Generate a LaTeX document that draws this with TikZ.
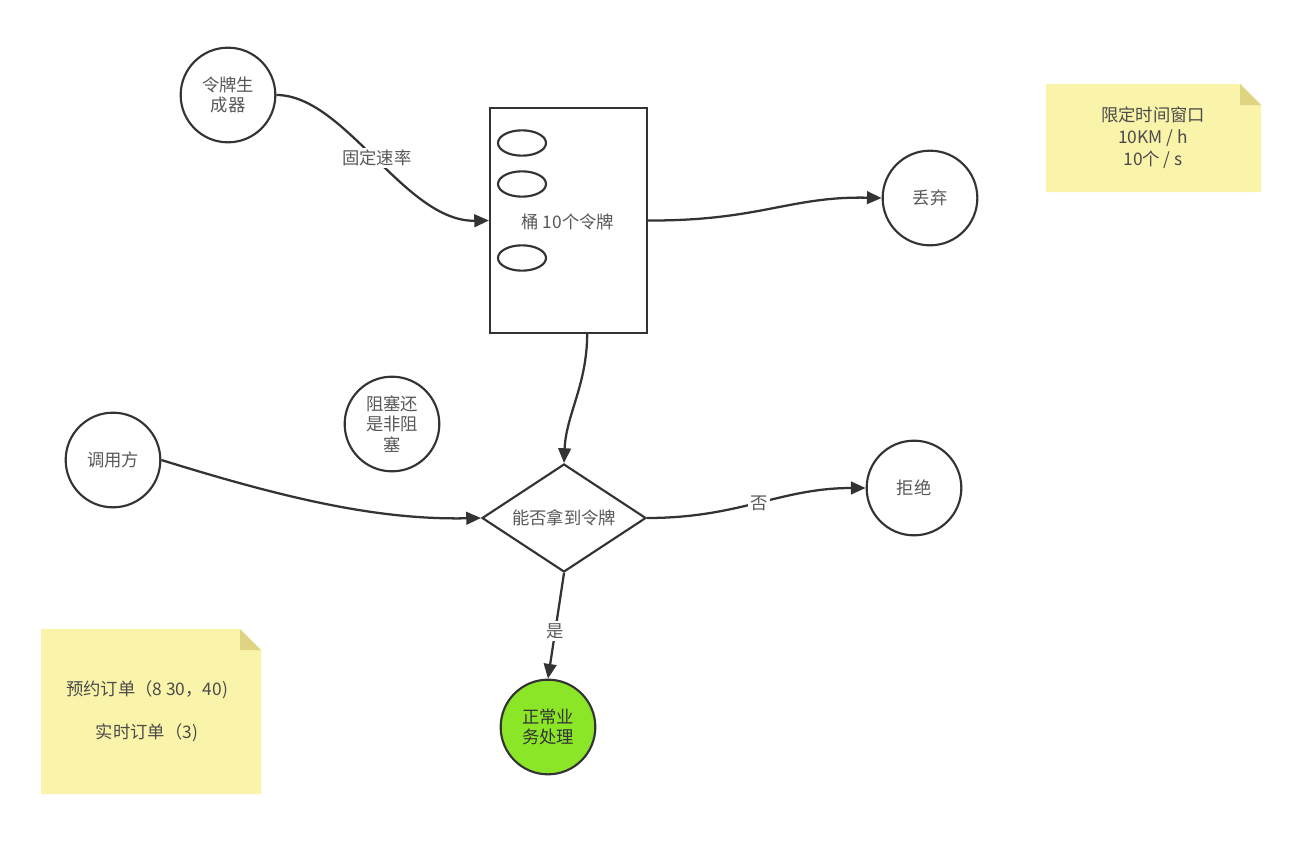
\documentclass[tikz,border=0pt]{standalone}
\usepackage{fontspec}
\setmainfont{Noto Sans CJK SC}
\usetikzlibrary{arrows.meta,shapes.geometric}
\definecolor{ln}{HTML}{333333}
\definecolor{tx}{HTML}{585858}
\definecolor{notey}{RGB}{250,244,170}
\definecolor{foldy}{RGB}{222,212,130}
\definecolor{okgreen}{HTML}{8CE628}
\tikzset{
  circ/.style={circle,draw=ln,line width=1.6pt,minimum size=71pt,inner sep=0pt,
    text=tx,align=center,font=\fontsize{13pt}{15.5pt}\selectfont},
  conn/.style={draw=ln,line width=1.7pt,-{Triangle[length=11pt,width=9.5pt]}},
  lbl/.style={fill=white,text=tx,inner sep=1.5pt,font=\fontsize{13pt}{15pt}\selectfont},
  tok/.style={ellipse,draw=ln,line width=1.6pt,minimum width=36pt,minimum height=19pt,inner sep=0pt},
  notetext/.style={text=tx!85!black,align=center,font=\fontsize{13pt}{16.5pt}\selectfont},
}
\begin{document}
\begin{tikzpicture}[x=0.75pt,y=-0.75pt]
\useasboundingbox (0,0) rectangle (1306,846);
\fill[white] (0,0) rectangle (1306,846);

% notes
\fill[notey] (1046,84) -- (1240,84) -- (1261,105) -- (1261,192) -- (1046,192) -- cycle;
\fill[foldy] (1240,84) -- (1240,105) -- (1261,105) -- cycle;
\node[notetext] (note1) at (1153,138) {限定时间窗口\\10KM / h\\10个 / s};

\fill[notey] (41,629) -- (240,629) -- (261,650) -- (261,794) -- (41,794) -- cycle;
\fill[foldy] (240,629) -- (240,650) -- (261,650) -- cycle;
\node[notetext,font=\fontsize{13pt}{32pt}\selectfont] (note2) at (147,711) {预约订单（8 30，40)\\实时订单（3)};

% nodes
\node[circ] (gen) at (228,95) {令牌生\\成器};
\node[draw=ln,line width=1.6pt,minimum width=117.75pt,minimum height=168.75pt,inner sep=0pt] (bucket) at (568.5,220.5) {};
\node[text=tx,font=\fontsize{13pt}{15pt}\selectfont] (btext) at (568,222) {桶 10个令牌};
\node[tok] (t1) at (522,143) {};
\node[tok] (t2) at (522,184) {};
\node[tok] (t3) at (522,258) {};
\node[circ] (drop) at (930,198) {丢弃};
\node[circ] (block) at (392,424) {阻塞还\\是非阻\\塞};
\node[circ] (caller) at (113,460) {调用方};
\node[diamond,draw=ln,line width=1.6pt,minimum width=123pt,minimum height=81pt,aspect=1.52,inner sep=0pt,
  text=tx,font=\fontsize{13pt}{15pt}\selectfont] (dec) at (564,518) {能否拿到令牌};
\node[circ] (reject) at (914,488) {拒绝};
\node[circ,fill=okgreen,text=black!80] (ok) at (548,727) {正常业\\务处理};

% connectors
\draw[conn] (gen.east) .. controls (345,95) and (405,222) .. (bucket.west)
  node[lbl,pos=0.5] {固定速率};
\draw[conn] (bucket.east) .. controls (760,221) and (790,196) .. (drop.west);
\draw[conn] ([xshift=14pt]bucket.south) .. controls (587,385) and (566,415) .. (dec.north);
\draw[conn] (caller.east) .. controls (290,500) and (380,520) .. (dec.west);
\draw[conn] (dec.east) .. controls (740,518) and (780,488) .. (reject.west)
  node[lbl,pos=0.5] {否};
\draw[conn] (dec.south) -- (ok.north) node[lbl,pos=0.55] {是};
\end{tikzpicture}
\end{document}
